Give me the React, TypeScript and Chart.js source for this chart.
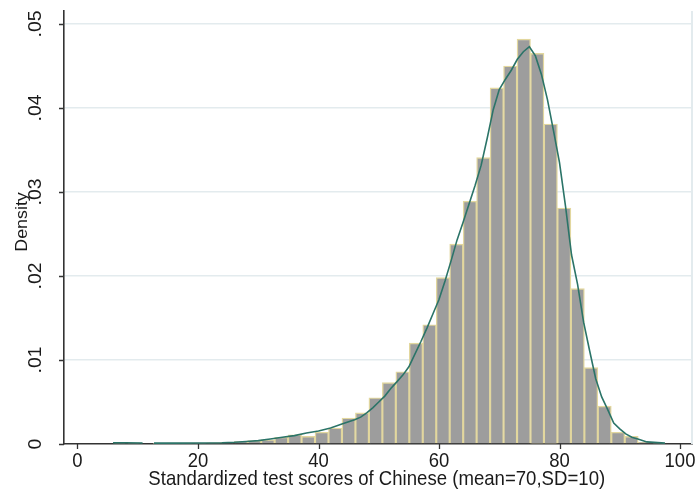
import React, { useEffect, useRef } from "react";
import { Chart, registerables } from "chart.js";

Chart.register(...registerables);

// Histogram bins: first edge and width (score units)
const BIN_START = 5.9;
const BIN_WIDTH = 2.235;

// Bar heights (density) for each bin, left to right
const binDensity = [
  0.0001, 0.0001, 0, 0.00005, 0.0001, 0.0001, 0.0001, 0.00015, 0.0002, 0.0003,
  0.0004, 0.0005, 0.0008, 0.0011, 0.0009, 0.0014, 0.0019, 0.0031, 0.0037, 0.0055,
  0.0073, 0.0086, 0.012, 0.0142, 0.0198, 0.0238, 0.0289, 0.0341, 0.0424, 0.045,
  0.0482, 0.0465, 0.0381, 0.0281, 0.0185, 0.0091, 0.0045, 0.0014, 0.0009, 0.0002,
  0.0001,
];

// Kernel density curve (null marks the stretch where the estimate is zero)
const kdenX = [
  5.9, 8, 10.8, 11.7, 12.7, 16, 20, 24, 26, 28, 30, 32, 34, 36, 38, 40, 42, 44, 46,
  47, 48, 49, 50, 51, 52, 53, 54, 55, 56, 57, 58, 59, 60, 61, 62, 63, 64, 65, 66, 67,
  68, 69, 70, 71, 72, 73, 74, 75, 76, 77, 78, 79, 80, 81, 82, 83, 84, 85, 86, 87, 88,
  89, 90, 91, 92, 93, 94.5, 97.5,
];
const kdenY: (number | null)[] = [
  0.00015, 0.00015, 0.00012, null, 0.0001, 0.0001, 0.00012, 0.00015, 0.0002, 0.0003,
  0.0004, 0.0006, 0.0008, 0.001, 0.0013, 0.00155, 0.0019, 0.0024, 0.0029, 0.0032,
  0.0037, 0.0043, 0.005, 0.0057, 0.0066, 0.0074, 0.0082, 0.0092, 0.0107, 0.0122,
  0.0138, 0.0155, 0.0172, 0.0194, 0.0218, 0.0243, 0.0264, 0.0286, 0.0308, 0.0332,
  0.0364, 0.0398, 0.0422, 0.0434, 0.0445, 0.0458, 0.0467, 0.0473, 0.0462, 0.044,
  0.041, 0.0373, 0.0335, 0.0283, 0.0225, 0.019, 0.0145, 0.0111, 0.0078, 0.0056,
  0.0041, 0.0025, 0.0018, 0.0012, 0.0008, 0.0006, 0.00025, 0.0001,
];

const xTickValues = [0, 20, 40, 60, 80, 100];
const xTickLabels = ["0", "20", "40", "60", "80", "100"];
const yTickValues = [0, 0.01, 0.02, 0.03, 0.04, 0.05];
const yTickLabels = ["0", ".01", ".02", ".03", ".04", ".05"];

const X_TITLE = "Standardized test scores of Chinese (mean=70,SD=10)";
const Y_TITLE = "Density";

const FONT = '"Liberation Sans", Arial, Helvetica, sans-serif';
const TEXT_COLOR = "#1a1a1a";
const AXIS_COLOR = "#333333";
const GRID_COLOR = "#e3ebee";
const BAR_FILL = "#9d9d9d";
const BAR_EDGE = "#e2d79e";
const KDEN_COLOR = "#2b7468";

function drawLabel(
  ctx: CanvasRenderingContext2D,
  text: string,
  x: number,
  y: number,
  size: number,
  rotated: boolean,
  stretch: number
) {
  ctx.save();
  ctx.translate(x, y);
  if (rotated) {
    ctx.rotate(-Math.PI / 2);
    ctx.scale(stretch, 1);
  } else {
    ctx.scale(1, stretch);
  }
  ctx.font = `${size}px ${FONT}`;
  ctx.fillStyle = TEXT_COLOR;
  ctx.textAlign = "center";
  ctx.textBaseline = "middle";
  ctx.fillText(text, 0, 0);
  ctx.restore();
}

// Tick marks, tick labels, axis titles and the light frame edge on the right
const axisDecor = {
  id: "axisDecor",
  afterDraw(chart: any) {
    const { ctx, chartArea } = chart;
    const xs = chart.scales.x;
    const ys = chart.scales.y;
    ctx.save();

    ctx.strokeStyle = GRID_COLOR;
    ctx.lineWidth = 2;
    ctx.beginPath();
    ctx.moveTo(chartArea.right, chartArea.top);
    ctx.lineTo(chartArea.right, chartArea.bottom);
    ctx.stroke();

    ctx.strokeStyle = AXIS_COLOR;
    ctx.lineWidth = 1.3;
    ctx.beginPath();
    xTickValues.forEach((v) => {
      const px = Math.round(xs.getPixelForValue(v)) + 0.5;
      ctx.moveTo(px, chartArea.bottom);
      ctx.lineTo(px, chartArea.bottom + 5);
    });
    yTickValues.forEach((v) => {
      const py = Math.round(ys.getPixelForValue(v)) + 0.5;
      ctx.moveTo(chartArea.left - 5, py);
      ctx.lineTo(chartArea.left, py);
    });
    ctx.stroke();

    xTickValues.forEach((v, i) => {
      drawLabel(ctx, xTickLabels[i], xs.getPixelForValue(v), chartArea.bottom + 18, 18.5, false, 1.05);
    });
    yTickValues.forEach((v, i) => {
      drawLabel(ctx, yTickLabels[i], chartArea.left - 28, ys.getPixelForValue(v), 18.5, true, 1.05);
    });

    drawLabel(ctx, X_TITLE, (xs.getPixelForValue(0) + xs.getPixelForValue(100)) / 2 - 2, chartArea.bottom + 36, 18.6, false, 1.05);
    drawLabel(ctx, Y_TITLE, chartArea.left - 42, 222, 17, true, 1.05);

    ctx.restore();
  },
};

export default function App() {
  const canvasRef = useRef<HTMLCanvasElement | null>(null);

  useEffect(() => {
    const canvas = canvasRef.current;
    if (!canvas) return;

    const barPoints = binDensity.map((d, i) => ({
      x: BIN_START + BIN_WIDTH * (i + 0.5),
      y: d,
    }));
    const curvePoints = kdenX.map((x, i) => ({ x, y: kdenY[i] }));

    const chart = new Chart(canvas, {
      type: "bar",
      data: {
        datasets: [
          {
            type: "line",
            data: curvePoints as any,
            borderColor: KDEN_COLOR,
            borderWidth: 1.6,
            pointRadius: 0,
            tension: 0,
            spanGaps: false,
            order: 0,
          },
          {
            type: "bar",
            data: barPoints as any,
            backgroundColor: BAR_FILL,
            borderColor: BAR_EDGE,
            borderWidth: 1.4,
            borderSkipped: "start",
            barPercentage: 1,
            categoryPercentage: 1,
            order: 1,
          },
        ],
      },
      options: {
        responsive: false,
        animation: false,
        events: [],
        layout: { padding: { left: 64, top: 11, right: 6, bottom: 51 } },
        plugins: {
          legend: { display: false },
          tooltip: { enabled: false },
          title: { display: false },
        },
        scales: {
          x: {
            type: "linear",
            min: -2.24,
            max: 101.99,
            offset: false,
            afterBuildTicks: (scale: any) => {
              scale.ticks = xTickValues.map((value) => ({ value }));
            },
            grid: { display: false, drawTicks: false },
            border: { display: true, color: AXIS_COLOR, width: 1.6 },
            ticks: { display: false },
          },
          y: {
            type: "linear",
            min: 0,
            max: 0.05155,
            afterBuildTicks: (scale: any) => {
              scale.ticks = yTickValues.map((value) => ({ value }));
            },
            grid: {
              drawTicks: false,
              lineWidth: 1.5,
              color: (c: any) => (c.tick && c.tick.value === 0 ? "rgba(0,0,0,0)" : GRID_COLOR),
            },
            border: { display: true, color: AXIS_COLOR, width: 1.6 },
            ticks: { display: false },
          },
        },
      },
      plugins: [axisDecor],
    });

    return () => chart.destroy();
  }, []);

  return (
    <div style={{ position: "absolute", left: 0, top: 0, width: 698, height: 495, background: "#ffffff" }}>
      <canvas ref={canvasRef} width={698} height={495} />
    </div>
  );
}
